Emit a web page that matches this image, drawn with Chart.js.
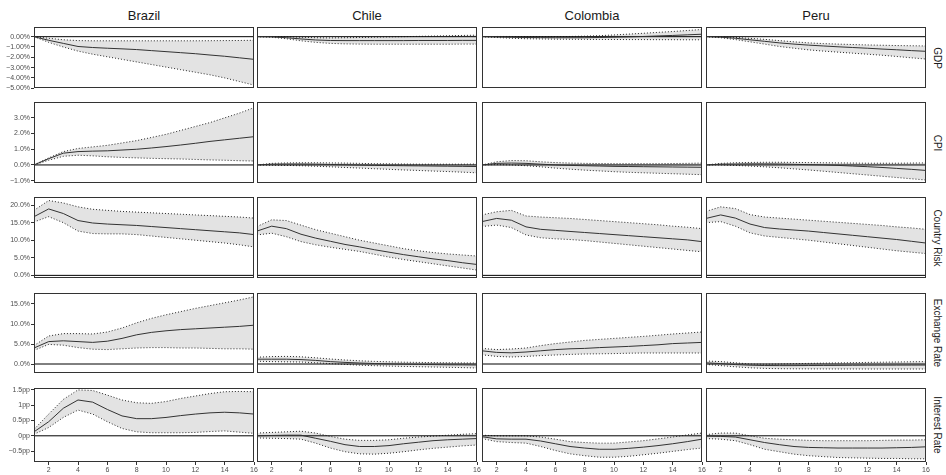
<!DOCTYPE html>
<html lang="en">
<head>
<meta charset="UTF-8" />
<title>Impulse responses</title>
<script src="https://cdn.jsdelivr.net/npm/chart.js@4.4.0/dist/chart.umd.min.js"></script>
<style>
    body { margin: 0; background: #fff; }
    #board { position: relative; width: 946px; height: 475px; overflow: hidden; font-family: "Liberation Sans", Arial, sans-serif; }
    .panel { position: absolute; }
    .col-title { position: absolute; top: 9px; width: 220px; text-align: center; font-size: 13px; line-height: 13px; color: #1a1a1a; }
    .row-title { position: absolute; left: 937px; font-size: 10px; line-height: 10px; color: #1a1a1a; white-space: nowrap; transform: translate(-50%, -50%) rotate(90deg); }
</style>
</head>
<body>
<div id="board"></div>
<script>
const countries = ['Brazil', 'Chile', 'Colombia', 'Peru'];
const variables = ['GDP', 'CPI', 'Country Risk', 'Exchange Rate', 'Interest Rate'];
const horizons = [1, 2, 3, 4, 5, 6, 7, 8, 9, 10, 11, 12, 13, 14, 15, 16];
const xTicks = [2, 4, 6, 8, 10, 12, 14, 16];

// y ticks per row
const gdpTicks = [0, -1, -2, -3, -4, -5];
const cpiTicks = [-1, 0, 1, 2, 3];
const riskTicks = [0, 5, 10, 15, 20];
const fxTicks = [0, 5, 10, 15];
const rateTicks = [-0.5, 0, 0.5, 1, 1.5];
const yMin = [-4.98, -1.15, -0.75, -2.25, -0.856];
const yMax = [0.94, 4.01, 22.3, 17.75, 1.562];

// rows: Brazil, Chile, Colombia, Peru
const gdpMean = [
    [0, -0.35, -0.65, -0.95, -1.05, -1.12, -1.18, -1.25, -1.35, -1.45, -1.55, -1.65, -1.78, -1.9, -2.05, -2.2],
    [0, -0.02, -0.1, -0.22, -0.32, -0.37, -0.38, -0.38, -0.38, -0.38, -0.38, -0.37, -0.37, -0.37, -0.36, -0.36],
    [0, -0.03, -0.06, -0.08, -0.09, -0.1, -0.1, -0.1, -0.08, -0.05, -0.02, 0.02, 0.07, 0.12, 0.18, 0.24],
    [0, -0.05, -0.15, -0.3, -0.45, -0.6, -0.72, -0.82, -0.9, -0.98, -1.05, -1.12, -1.2, -1.27, -1.35, -1.42]
];
const gdpUpper = [
    [0, -0.15, -0.3, -0.38, -0.4, -0.4, -0.4, -0.4, -0.4, -0.4, -0.4, -0.4, -0.39, -0.38, -0.37, -0.35],
    [0, 0.02, 0, -0.05, -0.1, -0.12, -0.1, -0.08, -0.05, -0.02, 0, 0.03, 0.06, 0.09, 0.12, 0.15],
    [0, 0.02, 0.02, 0.01, 0, 0, 0.02, 0.05, 0.1, 0.17, 0.25, 0.33, 0.42, 0.5, 0.6, 0.7],
    [0, -0.02, -0.07, -0.16, -0.26, -0.38, -0.5, -0.6, -0.67, -0.72, -0.76, -0.8, -0.83, -0.86, -0.88, -0.9]
];
const gdpLower = [
    [0, -0.55, -1.0, -1.4, -1.7, -1.95, -2.2, -2.45, -2.7, -2.95, -3.2, -3.45, -3.7, -4.0, -4.35, -4.7],
    [0, -0.05, -0.2, -0.4, -0.55, -0.65, -0.7, -0.72, -0.73, -0.73, -0.73, -0.73, -0.73, -0.73, -0.72, -0.72],
    [0, -0.08, -0.15, -0.2, -0.22, -0.24, -0.25, -0.26, -0.27, -0.27, -0.28, -0.28, -0.29, -0.29, -0.3, -0.3],
    [0, -0.1, -0.28, -0.5, -0.72, -0.95, -1.12, -1.28, -1.4, -1.5, -1.6, -1.7, -1.8, -1.92, -2.05, -2.17]
];

const cpiMean = [
    [0, 0.4, 0.75, 0.85, 0.88, 0.9, 0.95, 1.0, 1.08, 1.17, 1.27, 1.38, 1.5, 1.6, 1.7, 1.8],
    [0, 0.05, 0.06, 0.06, 0.05, 0.03, 0.01, -0.01, -0.03, -0.04, -0.05, -0.06, -0.07, -0.08, -0.09, -0.1],
    [0, 0.1, 0.12, 0.1, 0.05, 0, -0.03, -0.05, -0.07, -0.09, -0.1, -0.11, -0.12, -0.13, -0.14, -0.15],
    [0, 0.05, 0.06, 0.07, 0.07, 0.06, 0.04, 0.02, 0, -0.03, -0.07, -0.11, -0.16, -0.22, -0.28, -0.35]
];
const cpiUpper = [
    [0, 0.45, 0.85, 1.05, 1.15, 1.25, 1.4, 1.55, 1.75, 1.95, 2.2, 2.45, 2.7, 3.0, 3.3, 3.65],
    [0, 0.1, 0.13, 0.14, 0.14, 0.13, 0.12, 0.1, 0.08, 0.07, 0.06, 0.05, 0.05, 0.05, 0.05, 0.06],
    [0, 0.2, 0.28, 0.27, 0.2, 0.15, 0.12, 0.1, 0.09, 0.08, 0.08, 0.08, 0.08, 0.09, 0.1, 0.12],
    [0, 0.1, 0.14, 0.16, 0.17, 0.17, 0.16, 0.15, 0.14, 0.13, 0.12, 0.11, 0.11, 0.11, 0.12, 0.13]
];
const cpiLower = [
    [0, 0.3, 0.55, 0.62, 0.58, 0.52, 0.48, 0.45, 0.42, 0.4, 0.38, 0.35, 0.32, 0.3, 0.27, 0.25],
    [0, -0.02, -0.03, -0.05, -0.08, -0.12, -0.16, -0.2, -0.24, -0.28, -0.32, -0.35, -0.39, -0.42, -0.46, -0.5],
    [0, 0.02, 0, -0.05, -0.12, -0.2, -0.27, -0.33, -0.38, -0.43, -0.47, -0.5, -0.53, -0.56, -0.59, -0.62],
    [0, 0, -0.03, -0.07, -0.12, -0.18, -0.25, -0.32, -0.4, -0.48, -0.56, -0.64, -0.72, -0.8, -0.88, -0.96]
];

const riskMean = [
    [16.7, 18.9, 17.6, 15.6, 14.9, 14.6, 14.4, 14.2, 13.9, 13.6, 13.3, 13.0, 12.7, 12.4, 12.1, 11.6],
    [12.6, 14.0, 13.3, 11.7, 10.6, 9.7, 8.8, 8.1, 7.3, 6.6, 5.9, 5.3, 4.7, 4.2, 3.6, 3.1],
    [15.3, 16.2, 15.7, 13.8, 13.1, 12.8, 12.5, 12.2, 11.9, 11.6, 11.3, 11.0, 10.7, 10.4, 10.1, 9.6],
    [16.2, 17.2, 16.3, 14.6, 13.6, 13.2, 12.9, 12.6, 12.2, 11.8, 11.4, 11.0, 10.6, 10.2, 9.7, 9.2]
];
const riskUpper = [
    [18.5, 21.3, 20.6, 19.5, 18.8, 18.5, 18.2, 18.0, 17.8, 17.6, 17.4, 17.2, 17.0, 16.8, 16.6, 16.3],
    [13.9, 15.8, 15.6, 14.3, 13.0, 12.0, 11.0, 10.0, 9.2, 8.4, 7.6, 7.0, 6.5, 6.1, 5.8, 5.5],
    [17.2, 18.1, 18.5, 16.9, 16.6, 16.4, 16.2, 15.9, 15.6, 15.3, 15.0, 14.7, 14.4, 14.0, 13.7, 13.3],
    [18.2, 19.5, 19.0, 17.3, 16.6, 16.3, 16.0, 15.7, 15.4, 15.1, 14.8, 14.5, 14.2, 13.8, 13.5, 13.1]
];
const riskLower = [
    [15.2, 16.7, 15.0, 12.6, 11.9, 11.8, 11.8, 11.6, 11.2, 10.8, 10.4, 10.0, 9.6, 9.2, 8.7, 8.1],
    [11.5, 12.0, 11.0, 9.6, 8.7, 8.0, 7.4, 6.8, 6.0, 5.2, 4.5, 3.9, 3.3, 2.7, 2.1, 1.5],
    [13.9, 14.3, 13.6, 11.5, 10.7, 10.4, 10.2, 9.9, 9.5, 9.1, 8.7, 8.3, 7.9, 7.5, 7.1, 6.7],
    [15.0, 15.3, 14.0, 12.1, 11.2, 10.8, 10.4, 10.0, 9.5, 9.0, 8.5, 8.0, 7.5, 7.0, 6.6, 6.2]
];

const fxMean = [
    [4.0, 5.6, 5.8, 5.6, 5.4, 5.7, 6.4, 7.3, 7.9, 8.3, 8.6, 8.8, 9.0, 9.2, 9.4, 9.7],
    [1.2, 1.2, 1.2, 1.1, 0.9, 0.6, 0.4, 0.25, 0.12, 0.02, -0.05, -0.1, -0.15, -0.2, -0.22, -0.25],
    [3.3, 2.9, 2.8, 3.0, 3.3, 3.6, 3.8, 3.9, 4.1, 4.25, 4.4, 4.6, 4.8, 5.1, 5.25, 5.4],
    [0.3, 0.1, -0.15, -0.3, -0.38, -0.4, -0.4, -0.38, -0.36, -0.34, -0.32, -0.3, -0.29, -0.28, -0.27, -0.26]
];
const fxUpper = [
    [4.6, 7.0, 7.6, 7.6, 7.5, 8.0, 9.0, 10.3, 11.4, 12.3, 13.1, 13.9, 14.6, 15.3, 16.0, 16.8],
    [1.7, 1.85, 1.9, 1.8, 1.55, 1.25, 1.0, 0.8, 0.65, 0.55, 0.45, 0.4, 0.35, 0.3, 0.28, 0.25],
    [3.9, 3.6, 3.75, 4.0, 4.6, 5.1, 5.5, 5.9, 6.15, 6.4, 6.65, 6.9, 7.2, 7.5, 7.75, 8.0],
    [0.75, 0.6, 0.3, 0.0, -0.05, 0.0, 0.08, 0.15, 0.22, 0.28, 0.33, 0.4, 0.45, 0.5, 0.55, 0.6]
];
const fxLower = [
    [3.4, 4.9, 4.7, 4.1, 3.7, 3.6, 3.8, 4.0, 4.1, 4.1, 4.0, 4.0, 3.9, 3.8, 3.8, 3.7],
    [0.7, 0.6, 0.55, 0.5, 0.3, 0.1, -0.1, -0.3, -0.42, -0.52, -0.6, -0.68, -0.75, -0.82, -0.9, -1.0],
    [2.3, 1.9, 1.75, 1.9, 2.1, 2.25, 2.4, 2.5, 2.55, 2.6, 2.7, 2.75, 2.75, 2.75, 2.75, 2.75],
    [-0.1, -0.4, -0.7, -0.95, -1.1, -1.17, -1.2, -1.22, -1.23, -1.24, -1.24, -1.25, -1.25, -1.25, -1.25, -1.25]
];

const rateMean = [
    [0.13, 0.46, 0.9, 1.17, 1.1, 0.86, 0.65, 0.56, 0.56, 0.6, 0.66, 0.71, 0.75, 0.77, 0.75, 0.71],
    [0, 0.01, 0.02, 0.02, -0.08, -0.18, -0.29, -0.35, -0.35, -0.32, -0.26, -0.21, -0.16, -0.13, -0.11, -0.09],
    [-0.03, -0.1, -0.11, -0.11, -0.17, -0.26, -0.35, -0.4, -0.44, -0.44, -0.41, -0.37, -0.32, -0.26, -0.19, -0.11],
    [-0.01, -0.02, -0.04, -0.13, -0.22, -0.29, -0.35, -0.38, -0.39, -0.4, -0.4, -0.4, -0.4, -0.39, -0.38, -0.36]
];
const rateUpper = [
    [0.21, 0.71, 1.19, 1.5, 1.48, 1.33, 1.17, 1.08, 1.06, 1.12, 1.22, 1.3, 1.38, 1.44, 1.45, 1.44],
    [0.09, 0.11, 0.13, 0.15, 0.09, -0.02, -0.11, -0.15, -0.15, -0.13, -0.08, -0.04, -0.01, 0.02, 0.05, 0.07],
    [0.02, 0, 0, 0, -0.04, -0.11, -0.19, -0.22, -0.24, -0.24, -0.2, -0.16, -0.1, -0.04, 0.03, 0.09],
    [0.04, 0.09, 0.09, 0, -0.08, -0.11, -0.13, -0.15, -0.16, -0.16, -0.16, -0.16, -0.15, -0.14, -0.14, -0.13]
];
const rateLower = [
    [0.05, 0.27, 0.6, 0.84, 0.71, 0.46, 0.24, 0.13, 0.1, 0.1, 0.1, 0.11, 0.14, 0.16, 0.12, 0.08],
    [-0.07, -0.08, -0.09, -0.11, -0.24, -0.4, -0.52, -0.59, -0.6, -0.57, -0.52, -0.46, -0.41, -0.37, -0.33, -0.3],
    [-0.09, -0.19, -0.22, -0.24, -0.35, -0.48, -0.59, -0.65, -0.7, -0.7, -0.67, -0.62, -0.57, -0.51, -0.45, -0.4],
    [-0.09, -0.11, -0.16, -0.29, -0.44, -0.52, -0.6, -0.65, -0.68, -0.71, -0.72, -0.73, -0.74, -0.74, -0.75, -0.75]
];

const meanRows = [gdpMean, cpiMean, riskMean, fxMean, rateMean];
const upperRows = [gdpUpper, cpiUpper, riskUpper, fxUpper, rateUpper];
const lowerRows = [gdpLower, cpiLower, riskLower, fxLower, rateLower];
const tickRows = [gdpTicks, cpiTicks, riskTicks, fxTicks, rateTicks];

const minus = '\u2212';
const fmt = [
    v => (v < 0 ? minus : '') + Math.abs(v).toFixed(2) + '%',
    v => (v < 0 ? minus : '') + Math.abs(v).toFixed(1) + '%',
    v => (v < 0 ? minus : '') + Math.abs(v).toFixed(1) + '%',
    v => (v < 0 ? minus : '') + Math.abs(v).toFixed(1) + '%',
    v => (v < 0 ? minus : '') + Math.abs(v) + 'pp'
];

// panel rectangles in page pixels
const colL = [34, 257, 482, 706];
const panelW = 220;
const rowT = [27, 102, 197, 293, 388];
const rowB = [88, 183, 278, 373, 462];

const FONT = 'Liberation Sans, Arial, sans-serif';
const board = document.getElementById('board');

const panelBorder = {
    id: 'panelBorder',
    afterDatasetsDraw(chart) {
        const { ctx, chartArea: a } = chart;
        ctx.save();
        ctx.strokeStyle = '#333';
        ctx.lineWidth = 1;
        ctx.strokeRect(a.left + 0.5, a.top + 0.5, a.right - a.left - 1, a.bottom - a.top - 1);
        ctx.restore();
    }
};

const pts = arr => arr.map((v, i) => ({ x: horizons[i], y: v }));

function makePanel(r, c) {
    const first = c === 0;
    const last = r === variables.length - 1;
    const padL = first ? 0 : 4;
    const yW = first ? colL[0] : 0;
    const padT = 6, padR = 8;
    const padB = last ? 0 : 6;
    const xH = last ? 13 : 0;
    const w = panelW + padL + yW + padR;
    const h = rowB[r] - rowT[r] + padT + padB + xH;

    const wrap = document.createElement('div');
    wrap.className = 'panel';
    wrap.style.left = (colL[c] - padL - yW) + 'px';
    wrap.style.top = (rowT[r] - padT) + 'px';
    const cv = document.createElement('canvas');
    cv.width = w;
    cv.height = h;
    wrap.appendChild(cv);
    board.appendChild(wrap);

    const tickStyle = { font: { size: 7, family: FONT }, color: '#4d4d4d', padding: 1, maxRotation: 0, autoSkip: false };
    const grid = { display: true, drawOnChartArea: false, drawTicks: true, tickLength: 3, color: '#333' };
    const dotted = { borderColor: '#111', borderWidth: 0.9, borderDash: [1, 2], pointRadius: 0 };

    new Chart(cv, {
        type: 'line',
        data: {
            datasets: [
                { data: pts(meanRows[r][c]), borderColor: '#333', borderWidth: 1, pointRadius: 0, order: 0 },
                Object.assign({ data: pts(upperRows[r][c]), fill: '+1', backgroundColor: '#e3e3e3', order: 1 }, dotted),
                Object.assign({ data: pts(lowerRows[r][c]), fill: false, order: 2 }, dotted),
                { data: [{ x: horizons[0], y: 0 }, { x: horizons[horizons.length - 1], y: 0 }], borderColor: '#000', borderWidth: 1, pointRadius: 0, order: 3 }
            ]
        },
        options: {
            responsive: false,
            animation: false,
            events: [],
            layout: { padding: { left: padL, top: padT, right: padR, bottom: padB } },
            plugins: { legend: { display: false }, tooltip: { enabled: false }, filler: { drawTime: 'beforeDatasetsDraw' } },
            scales: {
                x: {
                    type: 'linear', min: 1, max: 16, display: last,
                    afterBuildTicks: s => { s.ticks = xTicks.map(v => ({ value: v })); },
                    afterFit: s => { s.height = xH; s.paddingLeft = 0; s.paddingRight = 0; },
                    grid: grid, border: { display: false }, ticks: tickStyle
                },
                y: {
                    type: 'linear', min: yMin[r], max: yMax[r], display: first,
                    afterBuildTicks: s => { s.ticks = tickRows[r].map(v => ({ value: v })); },
                    afterFit: s => { s.width = yW; s.paddingTop = 0; s.paddingBottom = 0; },
                    grid: grid, border: { display: false },
                    ticks: Object.assign({}, tickStyle, { callback: v => fmt[r](v) })
                }
            }
        },
        plugins: [panelBorder]
    });
}

countries.forEach((name, c) => {
    const d = document.createElement('div');
    d.className = 'col-title';
    d.style.left = colL[c] + 'px';
    d.textContent = name;
    board.appendChild(d);
});
variables.forEach((name, r) => {
    const d = document.createElement('div');
    d.className = 'row-title';
    d.style.top = ((rowT[r] + rowB[r]) / 2) + 'px';
    d.textContent = name;
    board.appendChild(d);
});
for (let r = 0; r < variables.length; r++) {
    for (let c = 0; c < countries.length; c++) makePanel(r, c);
}
</script>
</body>
</html>
